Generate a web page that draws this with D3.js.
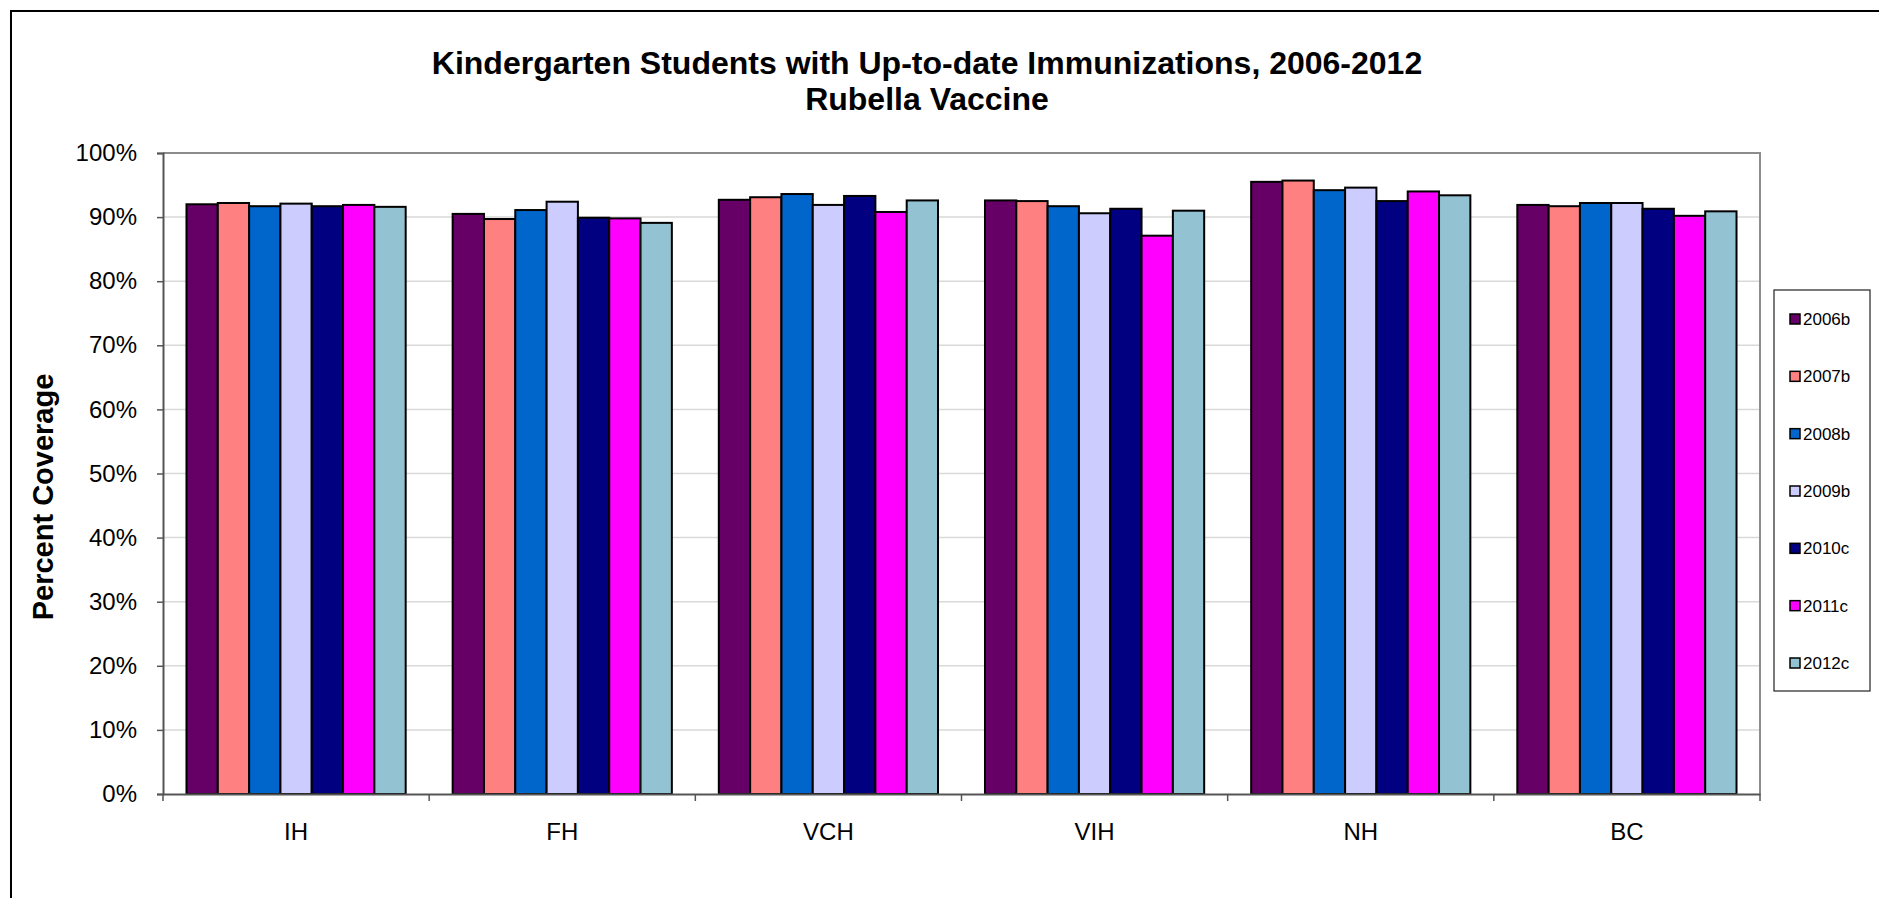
<!DOCTYPE html>
<html>
<head>
<meta charset="utf-8">
<script src="https://cdn.jsdelivr.net/npm/d3@7"></script>
<style>
  html, body { margin: 0; padding: 0; background: #fff; }
  svg { display: block; font-family: "Liberation Sans", Arial, sans-serif; }
</style>
</head>
<body>
<svg id="chart" width="1879" height="898"></svg>
<script>
const categories = ["IH", "FH", "VCH", "VIH", "NH", "BC"];
const seriesNames = ["2006b", "2007b", "2008b", "2009b", "2010c", "2011c", "2012c"];
const seriesColors = ["#660066", "#FF8080", "#0066CC", "#CCCCFF", "#000080", "#FF00FF", "#93C3D3"];
// values in percent, one array per series (order matches categories)
const v2006b = [92.0, 90.5, 92.7, 92.6, 95.5, 91.9];
const v2007b = [92.2, 89.7, 93.1, 92.5, 95.7, 91.7];
const v2008b = [91.7, 91.1, 93.6, 91.7, 94.2, 92.2];
const v2009b = [92.1, 92.4, 91.9, 90.6, 94.6, 92.2];
const v2010c = [91.7, 89.9, 93.3, 91.3, 92.5, 91.3];
const v2011c = [91.9, 89.8, 90.8, 87.1, 94.0, 90.2];
const v2012c = [91.6, 89.1, 92.6, 91.0, 93.4, 90.9];
const yTicks = [0, 10, 20, 30, 40, 50, 60, 70, 80, 90, 100];
const titleLines = ["Kindergarten Students with Up-to-date Immunizations, 2006-2012", "Rubella Vaccine"];
const yAxisTitle = "Percent Coverage";

const seriesValues = [v2006b, v2007b, v2008b, v2009b, v2010c, v2011c, v2012c];
const data = categories.map((c, i) => ({
  cat: c,
  vals: seriesNames.map((s, j) => ({ s, j, v: seriesValues[j][i] }))
}));

const svg = d3.select("#chart");
const plot = { left: 163, right: 1760, top: 153, bottom: 794 };

// outer chart border
svg.append("rect").attr("x", 11).attr("y", 11).attr("width", 1879).attr("height", 1000)
  .attr("fill", "#fff").attr("stroke", "#000").attr("stroke-width", 2);

const x0 = d3.scaleBand().domain(categories).range([plot.left, plot.right]).paddingInner(0).paddingOuter(0);
const x1 = d3.scaleBand().domain(seriesNames).range([0, x0.bandwidth()]).paddingInner(0).paddingOuter(0.75);
const y = d3.scaleLinear().domain([0, 100]).range([plot.bottom, plot.top]);

// gridlines
svg.append("g").selectAll("line").data(yTicks.filter(t => t > 0 && t < 100)).join("line")
  .attr("x1", plot.left).attr("x2", plot.right)
  .attr("y1", d => y(d)).attr("y2", d => y(d))
  .attr("stroke", "#d9d9d9").attr("stroke-width", 1.5);

// plot border top/right
svg.append("path")
  .attr("d", `M${plot.left},${plot.top}H${plot.right}V${plot.bottom}`)
  .attr("fill", "none").attr("stroke", "#8c8c8c").attr("stroke-width", 2);

// bars
const groups = svg.append("g").selectAll("g").data(data).join("g")
  .attr("transform", d => `translate(${x0(d.cat)},0)`);
groups.selectAll("rect").data(d => d.vals).join("rect")
  .attr("x", d => x1(d.s))
  .attr("width", x1.bandwidth())
  .attr("y", d => y(d.v))
  .attr("height", d => y(0) - y(d.v))
  .attr("fill", d => seriesColors[d.j])
  .attr("stroke", "#000").attr("stroke-width", 2);

// y axis
const yAxis = svg.append("g").attr("transform", `translate(${plot.left},0)`)
  .call(d3.axisLeft(y).tickValues(yTicks).tickFormat(d => d + "%").tickSize(6).tickPadding(20));
yAxis.select(".domain").attr("stroke", "#555").attr("stroke-width", 2);
yAxis.selectAll(".tick line").attr("stroke", "#555").attr("stroke-width", 1.5);
yAxis.selectAll("text").attr("font-size", 24).attr("fill", "#000")
  .attr("font-family", "Liberation Sans, Arial, sans-serif");

// x axis
const xAxis = svg.append("g").attr("transform", `translate(0,${plot.bottom})`)
  .call(d3.axisBottom(x0).tickSize(0).tickPadding(29));
xAxis.select(".domain").attr("stroke", "#555").attr("stroke-width", 2);
xAxis.selectAll("text").attr("font-size", 24).attr("fill", "#000")
  .attr("font-family", "Liberation Sans, Arial, sans-serif");
// category boundary ticks
const bounds = categories.map(c => x0(c)).concat([plot.right]);
svg.append("g").selectAll("line").data(bounds).join("line")
  .attr("x1", d => d).attr("x2", d => d)
  .attr("y1", plot.bottom).attr("y2", plot.bottom + 7)
  .attr("stroke", "#555").attr("stroke-width", 1.5);

// title
svg.append("g").selectAll("text").data(titleLines).join("text")
  .attr("x", 927).attr("y", (d, i) => 74 + i * 36)
  .attr("text-anchor", "middle").attr("font-weight", "bold").attr("font-size", 32)
  .text(d => d);

// y axis title
svg.append("text")
  .attr("transform", `translate(53,497) rotate(-90)`)
  .attr("text-anchor", "middle").attr("font-weight", "bold").attr("font-size", 29)
  .text(yAxisTitle);

// legend
const legend = svg.append("g");
legend.append("rect").attr("x", 1774).attr("y", 290).attr("width", 96).attr("height", 401)
  .attr("fill", "#fff").attr("stroke", "#222").attr("stroke-width", 1.2);
const ly = d3.scalePoint().domain(seriesNames).range([319, 663]);
const items = legend.selectAll("g.item").data(seriesNames).join("g").attr("class", "item")
  .attr("transform", d => `translate(1790,${ly(d)})`);
items.append("rect").attr("x", 0).attr("y", -5).attr("width", 10).attr("height", 10)
  .attr("fill", (d, i) => seriesColors[i]).attr("stroke", "#000").attr("stroke-width", 1.5);
items.append("text").attr("x", 13).attr("y", 0).attr("dy", "0.35em")
  .attr("font-size", 17).text(d => d);
</script>
</body>
</html>
